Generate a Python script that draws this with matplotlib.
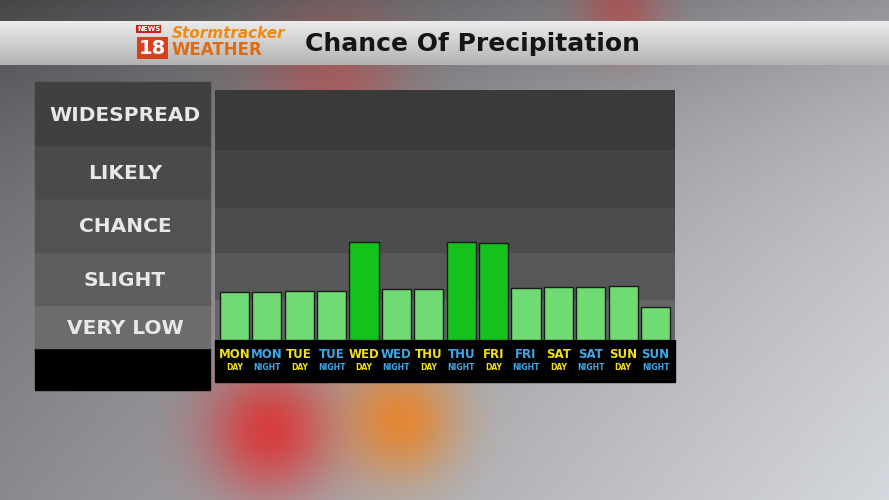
import numpy as np
import matplotlib.pyplot as plt
from matplotlib.patches import Rectangle

# data
days = ["MON", "MON", "TUE", "TUE", "WED", "WED", "THU", "THU", "FRI", "FRI", "SAT", "SAT", "SUN", "SUN"]
parts = ["DAY", "NIGHT"] * 7
chance = [48, 48, 49, 49, 98, 51, 51, 98, 97, 52, 53, 53, 54, 33]
levels = ["VERY LOW", "SLIGHT", "CHANCE", "LIKELY", "WIDESPREAD"]
level_edges = [0, 40, 87, 132, 190, 250]

fig = plt.figure(figsize=(8.89, 5.0), dpi=100)

# background: blurred wet road look
bg = fig.add_axes([0, 0, 1, 1])
yy, xx = np.mgrid[0:500, 0:889]
base = 0.42 + 0.3 * (xx / 889) + 0.12 * (yy / 500) - 0.15 * np.exp(-yy / 120)
img = np.dstack([base, base * 1.01, base * 1.04])
for cx, cy, s, col, k in [(270, 430, 45, (0.9, 0.15, 0.15), 0.8), (400, 420, 40, (0.95, 0.5, 0.1), 0.8),
                          (330, 80, 50, (0.8, 0.25, 0.25), 0.5), (620, 10, 30, (0.8, 0.2, 0.2), 0.5)]:
    g = np.exp(-((xx - cx) ** 2 + (yy - cy) ** 2) / (2 * s ** 2))[..., None]
    img = img * (1 - k * g) + np.array(col) * k * g
bg.imshow(np.clip(img, 0, 1), extent=[0, 889, 500, 0], aspect="auto")
bg.set_xlim(0, 889)
bg.set_ylim(500, 0)
bg.axis("off")

# header bar
grad = np.linspace(0.92, 0.7, 44)[:, None] * np.ones((44, 889))
bg.imshow(grad, cmap="gray", vmin=0, vmax=1, extent=[0, 889, 65, 21], aspect="auto")
bg.text(305, 44, "Chance Of Precipitation", fontsize=18, fontweight="bold", color="#151515", va="center")
bg.text(137, 29, "NEWS", fontsize=5, fontweight="bold", color="white", va="center",
        bbox=dict(boxstyle="square,pad=0.15", fc="#c8201e", ec="none"))
bg.text(139, 48, "18", fontsize=14, fontweight="bold", color="white", va="center",
        bbox=dict(boxstyle="square,pad=0.1", fc="#d8401e", ec="none"))
bg.text(172, 34, "Stormtracker", fontsize=11, fontweight="bold", style="italic", color="#f08a10", va="center")
bg.text(172, 50, "WEATHER", fontsize=12, fontweight="bold", color="#e06a10", va="center")

# left level panel
left_cols = ["#6c6c6c", "#5e5e5e", "#525252", "#4a4a4a", "#404040"]
left_bounds = [(305, 348), (252, 305), (198, 252), (145, 198), (82, 145)]
bg.add_patch(Rectangle((35, 348), 175, 42, color="black"))
for lab, c, (y0, y1) in zip(levels, left_cols, left_bounds):
    bg.add_patch(Rectangle((35, y0), 175, y1 - y0, color=c))
    bg.text(125, (y0 + y1) / 2 + 2, lab, fontsize=14.5, fontweight="bold", color="#e8e8e8",
            ha="center", va="center")

# chart panel
bg.add_patch(Rectangle((215, 340), 460, 42, color="black"))
ax = fig.add_axes([215 / 889, 1 - 340 / 500, 460 / 889, 250 / 500])
band_cols = ["#666666", "#575757", "#4c4c4c", "#434343", "#3a3a3a"]
for i, c in enumerate(band_cols):
    ax.axhspan(level_edges[i], level_edges[i + 1], color=c, lw=0)
x = np.arange(len(chance))
cols = ["#13c21a" if v > 80 else "#6fdb72" for v in chance]
ax.bar(x, chance, width=0.9, color=cols, edgecolor="#1a1a1a", linewidth=1)
ax.set_xlim(-0.6, len(chance) - 0.4)
ax.set_ylim(0, 250)
ax.axis("off")

for i, (d, p) in enumerate(zip(days, parts)):
    c = "#f3e01a" if p == "DAY" else "#3ea9ea"
    xp = 215 + 460 * (i + 0.6) / (len(chance) + 0.2)
    bg.text(xp, 354, d, fontsize=8.5, fontweight="bold", color=c, ha="center", va="center")
    bg.text(xp, 367, p, fontsize=5.5, fontweight="bold", color=c, ha="center", va="center")

fig.savefig("out.png", dpi=100)
